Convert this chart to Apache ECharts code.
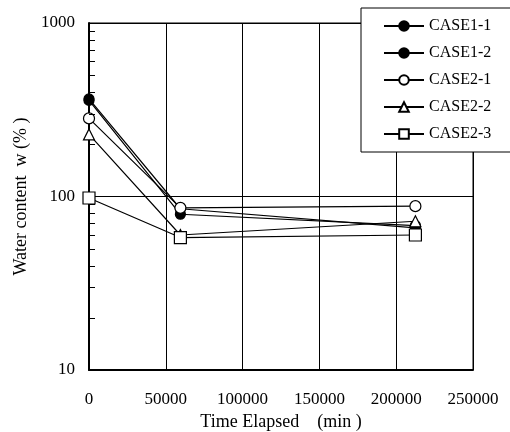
<!DOCTYPE html>
<html>
<head>
<meta charset="utf-8">
<script src="https://cdn.jsdelivr.net/npm/echarts@6/dist/echarts.min.js"></script>
<style>html,body{margin:0;padding:0;background:#fff;}#c{width:510px;height:432px;}</style>
</head>
<body>
<div id="c"></div>
<script>
const times = [0, 59500, 212500];
const seriesNames = ['CASE1-1', 'CASE1-2', 'CASE2-1', 'CASE2-2', 'CASE2-3'];
const case11 = [365, 85, 66];
const case12 = [358, 79, 68];
const case21 = [282, 86, 88];
const case22 = [228, 60, 72];
const case23 = [98, 58, 60];
const minorTickValues = [20, 30, 40, 50, 60, 70, 80, 90, 200, 300, 400, 500, 600, 700, 800, 900];

const FONT = 'Liberation Serif';
const chart = echarts.init(document.getElementById('c'), null, {renderer: 'canvas'});

function mk(name, vals, symbol, fill, size) {
  return {
    name: name,
    type: 'line',
    data: vals.map((v, i) => [times[i], v]),
    symbol: symbol,
    symbolSize: size,
    showAllSymbol: true,
    lineStyle: {color: '#000', width: 1.2},
    itemStyle: {color: fill, borderColor: '#000', borderWidth: 1.2},
    emphasis: {disabled: true},
    animation: false
  };
}

chart.setOption({
  animation: false,
  backgroundColor: '#fff',
  grid: {left: 89, right: 37, top: 23, bottom: 62, show: true, borderColor: '#000', borderWidth: 1,
         containLabel: false, outerBoundsMode: 'none'},
  legend: {
    orient: 'vertical',
    left: 361, top: 8,
    padding: [10, 40, 10, 22],
    itemWidth: 40, itemHeight: 12, itemGap: 11,
    borderColor: '#000', borderWidth: 1, backgroundColor: '#fff',
    textStyle: {fontFamily: FONT, fontSize: 16, color: '#000', lineHeight: 14},
    data: seriesNames
  },
  xAxis: {
    type: 'value', min: 0, max: 250000, interval: 50000,
    name: 'Time Elapsed    (min )', nameLocation: 'middle', nameGap: 41,
    nameTextStyle: {fontFamily: FONT, fontSize: 18, color: '#000'},
    axisLine: {lineStyle: {color: '#000', width: 2}},
    axisTick: {show: false},
    axisLabel: {fontFamily: FONT, fontSize: 17, color: '#000', margin: 21, formatter: v => String(v)},
    splitLine: {show: true, lineStyle: {color: '#000', width: 1}}
  },
  yAxis: {
    type: 'log', logBase: 10, min: 10, max: 1000,
    name: 'Water content  w (% )', nameLocation: 'middle', nameGap: 57,
    nameTextStyle: {fontFamily: FONT, fontSize: 18, color: '#000'},
    axisLine: {lineStyle: {color: '#000', width: 2}},
    axisTick: {show: true, inside: true, length: 6, lineStyle: {color: '#000'}},
    axisLabel: {fontFamily: FONT, fontSize: 17, color: '#000', margin: 14, formatter: v => String(Math.round(v))},
    splitLine: {show: true, lineStyle: {color: '#000', width: 1}}
  },
  series: [
    mk(seriesNames[0], case11, 'circle', '#000', 10),
    mk(seriesNames[1], case12, 'circle', '#000', 10),
    mk(seriesNames[2], case21, 'circle', '#fff', 11),
    mk(seriesNames[3], case22, 'triangle', '#fff', 11),
    mk(seriesNames[4], case23, 'rect', '#fff', 12)
  ]
});

const x0 = chart.convertToPixel({xAxisIndex: 0}, 0);
const ticks = minorTickValues.map(v => {
  const y = Math.round(chart.convertToPixel({yAxisIndex: 0}, v)) + 0.5;
  return {type: 'line', shape: {x1: x0, y1: y, x2: x0 + 6, y2: y}, style: {stroke: '#000', lineWidth: 1}, silent: true, z: 10};
});
chart.setOption({graphic: ticks});
</script>
</body>
</html>
